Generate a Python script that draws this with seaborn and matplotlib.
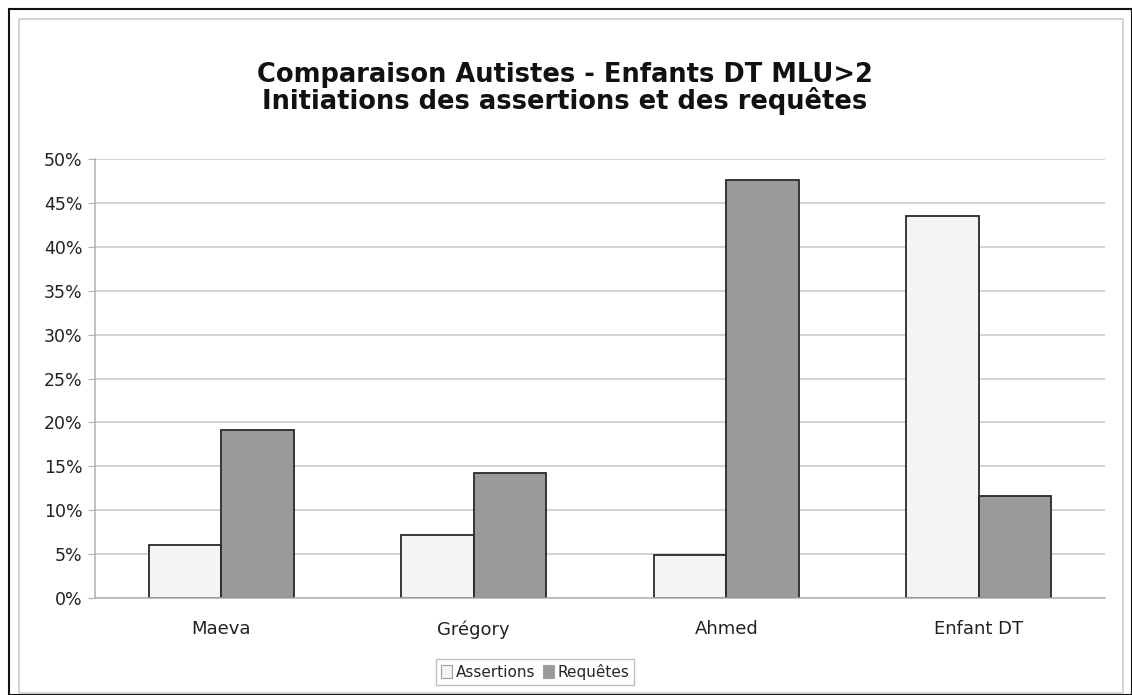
import numpy as np
import pandas as pd
import seaborn as sns
import matplotlib.pyplot as plt
from matplotlib.patches import Rectangle
from matplotlib.ticker import PercentFormatter, FixedLocator

# values (percent)
enfants = ["Maeva", "Grégory", "Ahmed", "Enfant DT"]
assertions = [6.0, 7.2, 4.9, 43.5]
requetes = [19.1, 14.2, 47.6, 11.6]
series = ["Assertions", "Requêtes"]

df = pd.DataFrame({
    "enfant": enfants * 2,
    "type": [series[0]] * 4 + [series[1]] * 4,
    "val": assertions + requetes,
})

sns.set_style("white")
plt.rcParams["font.family"] = ["DejaVu Sans"]

fig = plt.figure(figsize=(11.32, 6.95), dpi=100)
ax = fig.add_axes([95 / 1132, 97 / 695, 1010 / 1132, 439 / 695])

sns.barplot(data=df, x="enfant", y="val", hue="type", ax=ax, width=0.575,
            palette={"Assertions": "#f4f4f4", "Requêtes": "#9a9a9a"},
            edgecolor="#2a2a2a", linewidth=1.3, saturation=1, legend=True)

ax.set_ylim(0, 50)
ax.set_xlim(-0.5, 3.5)
ax.yaxis.set_major_locator(FixedLocator(np.arange(0, 51, 5)))
ax.yaxis.set_major_formatter(PercentFormatter(decimals=0))
ax.grid(axis="y", color="#c8c8c8", linewidth=1.1)
ax.set_axisbelow(True)
ax.set_xlabel("")
ax.set_ylabel("")

for s in ["top", "right"]:
    ax.spines[s].set_visible(False)
for s in ["left", "bottom"]:
    ax.spines[s].set_color("#b0b0b0")
    ax.spines[s].set_linewidth(1.1)

ax.set_xticks(np.arange(-0.5, 3.6, 1), minor=True)
ax.tick_params(axis="x", which="major", length=0, pad=16, labelsize=13, labelcolor="#222222")
ax.tick_params(axis="x", which="minor", length=5, color="#b0b0b0", direction="out")
ax.tick_params(axis="y", length=5, color="#b0b0b0", direction="out", labelsize=12.5,
               labelcolor="#222222", pad=4, left=True)

handles, labels = ax.get_legend_handles_labels()
ax.legend_.remove()
for h in handles:
    h.set_edgecolor("#a0a0a0")
    h.set_linewidth(0.8)
leg = fig.legend(handles, labels, loc="center", bbox_to_anchor=(535 / 1132, 1 - 672 / 695),
                 ncol=2, frameon=True, fontsize=11, handlelength=0.75, handleheight=0.9,
                 handletextpad=0.2, columnspacing=0.5, borderpad=0.3, borderaxespad=0,
                 fancybox=False)
leg.get_frame().set_edgecolor("#b0b0b0")
leg.get_frame().set_linewidth(1.0)

fig.text(0.499, 1 - 75 / 695, "Comparaison Autistes - Enfants DT MLU>2", ha="center",
         va="center", fontsize=18.5, fontweight="bold", color="#111111")
fig.text(0.499, 1 - 101 / 695, "Initiations des assertions et des requêtes", ha="center",
         va="center", fontsize=18.5, fontweight="bold", color="#111111")

# chart frames
fig.patches.append(Rectangle((9 / 1132, 0), 1 - 9 / 1132, 1 - 9 / 695, transform=fig.transFigure,
                             fill=False, edgecolor="#111111", linewidth=1.5))
fig.patches.append(Rectangle((19 / 1132, 2 / 695), 1104 / 1132, 674 / 695, transform=fig.transFigure,
                             fill=False, edgecolor="#cccccc", linewidth=1.2))

fig.savefig("out.png", dpi=100)
